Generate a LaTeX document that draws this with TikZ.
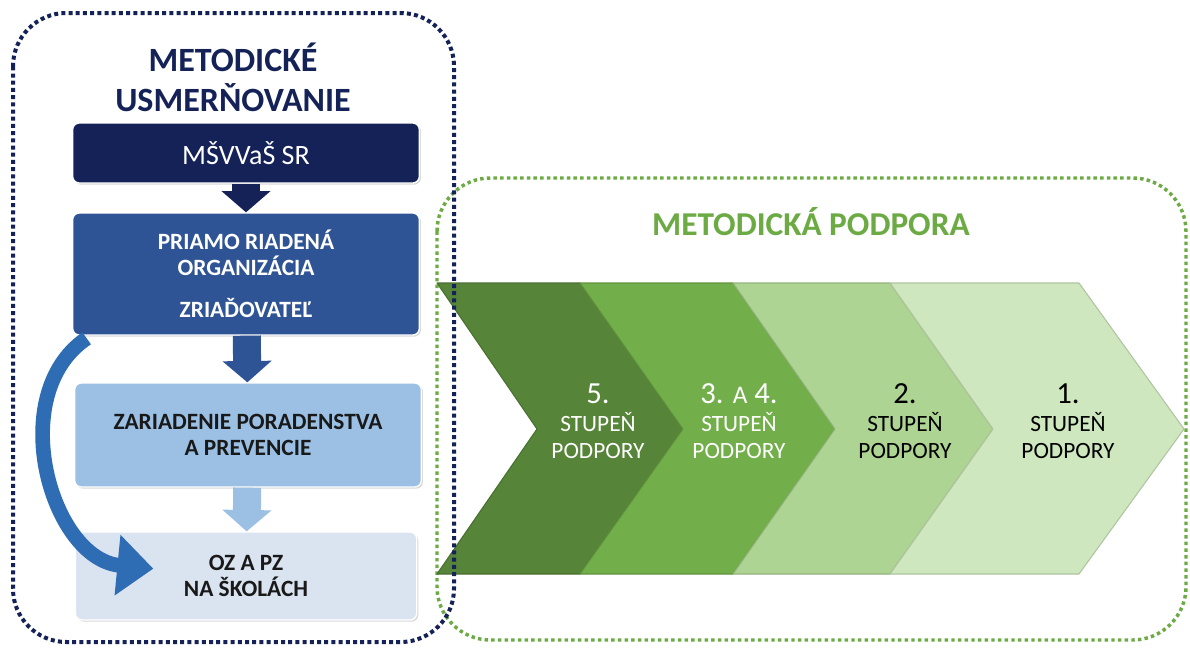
\documentclass[tikz,border=0pt]{standalone}
\usepackage{fontspec}
\setmainfont{Carlito}
\usetikzlibrary{arrows.meta, positioning, shadows, backgrounds}
\definecolor{navyblue}{RGB}{20,34,88}
\definecolor{midblue}{RGB}{47,84,150}
\definecolor{lightblue}{RGB}{155,192,228}
\definecolor{paleblue}{RGB}{218,227,240}
\definecolor{curveblue}{RGB}{46,109,180}
\definecolor{greenA}{RGB}{86,132,56}
\definecolor{greenB}{RGB}{114,174,73}
\definecolor{greenC}{RGB}{173,212,146}
\definecolor{greenD}{RGB}{206,231,190}
\definecolor{titlegreen}{RGB}{108,170,68}

\begin{document}
\begin{tikzpicture}[x=0.75pt, y=-0.75pt,
    box/.style={rectangle, rounded corners=5pt, draw=white, line width=1pt, align=center,
        drop shadow={opacity=0.3, shadow xshift=1.2pt, shadow yshift=-1.2pt}},
    downarrow/.style={line width=21pt, -{Triangle[width=36pt, length=16pt]}},
    lvltext/.style={align=center, font=\fontsize{17.5}{20}\selectfont},
    chevron/.style={fill=#1, draw=#1!85!black, line width=0.8pt, line join=round}]
    \useasboundingbox (0,0) rectangle (1190,650);
    \begin{scope}[on background layer]
        \fill[white] (0,0) rectangle (1190,650);
    \end{scope}

    % metodicka podpora
    \draw[titlegreen, line width=2.6pt, dash pattern=on 2.6pt off 2.4pt, rounded corners=40pt]
        (437,178) rectangle (1186,640);
    \node[font=\bfseries\fontsize{25}{25}\selectfont, text=titlegreen] (podpora) at (811,222) {METODICKÁ PODPORA};

    % stupne podpory
    \fill[chevron=greenA] (437,283) -- (580,283) -- (683,429) -- (580,574) -- (437,574) -- (537,429) -- cycle;
    \fill[chevron=greenB] (580,283) -- (733,283) -- (835,429) -- (733,574) -- (580,574) -- (683,429) -- cycle;
    \fill[chevron=greenC] (733,283) -- (890,283) -- (993,429) -- (890,574) -- (733,574) -- (835,429) -- cycle;
    \fill[chevron=greenD] (890,283) -- (1079,283) -- (1184,429) -- (1079,574) -- (890,574) -- (993,429) -- cycle;

    \node[lvltext, text=white] (lvl5) at (598,421) {{\fontsize{23}{23}\selectfont 5.}\\[1pt]STUPEŇ\\PODPORY};
    \node[lvltext, text=white] (lvl34) at (739,421) {{\fontsize{23}{23}\selectfont 3. {\fontsize{19}{19}\selectfont A} 4.}\\[1pt]STUPEŇ\\PODPORY};
    \node[lvltext, text=black] (lvl2) at (905,421) {{\fontsize{23}{23}\selectfont 2.}\\[1pt]STUPEŇ\\PODPORY};
    \node[lvltext, text=black] (lvl1) at (1068,421) {{\fontsize{23}{23}\selectfont 1.}\\[1pt]STUPEŇ\\PODPORY};

    % metodicke usmernovanie
    \draw[navyblue, line width=3pt, dash pattern=on 3pt off 2.4pt, rounded corners=40pt]
        (13,13) rectangle (454,642);
    \node[font=\bfseries\fontsize{25.5}{30}\selectfont, text=navyblue, align=center] (usmer) at (233,77) {METODICKÉ\\USMERŇOVANIE};

    \node[box, fill=navyblue, text=white, minimum width=260pt, minimum height=45pt,
        font=\fontsize{21}{25}\selectfont] (msvvas) at (246,153) {MŠVVaŠ SR};
    \node[box, fill=midblue, text=white, minimum width=260pt, minimum height=91.5pt,
        font=\bfseries\fontsize{17.5}{19.5}\selectfont] (priamo) at (246,274) {PRIAMO RIADENÁ\\ORGANIZÁCIA\\[12pt]ZRIAĎOVATEĽ};
    \node[box, fill=lightblue, text=black!90, minimum width=260pt, minimum height=78pt,
        font=\bfseries\fontsize{17.5}{19.5}\selectfont] (zariadenie) at (248,435) {ZARIADENIE PORADENSTVA\\A PREVENCIE};
    \node[box, fill=paleblue, text=black!90, minimum width=256pt, minimum height=66pt,
        font=\bfseries\fontsize{17.5}{20}\selectfont] (ozpz) at (246,576) {OZ A PZ\\NA ŠKOLÁCH};

    \draw[downarrow, navyblue] (msvvas) -- (priamo);
    \draw[downarrow, midblue] (priamo) -- (zariadenie);
    \draw[downarrow, lightblue] (zariadenie) -- (ozpz);

    % oblukova sipka
    \draw[curveblue, line width=11pt, -{Triangle[width=44pt, length=27pt]}]
        ([xshift=11pt, yshift=-2pt]priamo.south west) .. controls +(-62pt,-42pt) and +(-77pt,7.5pt)
        .. ([xshift=59pt, yshift=-28pt]ozpz.north west);
\end{tikzpicture}
\end{document}
